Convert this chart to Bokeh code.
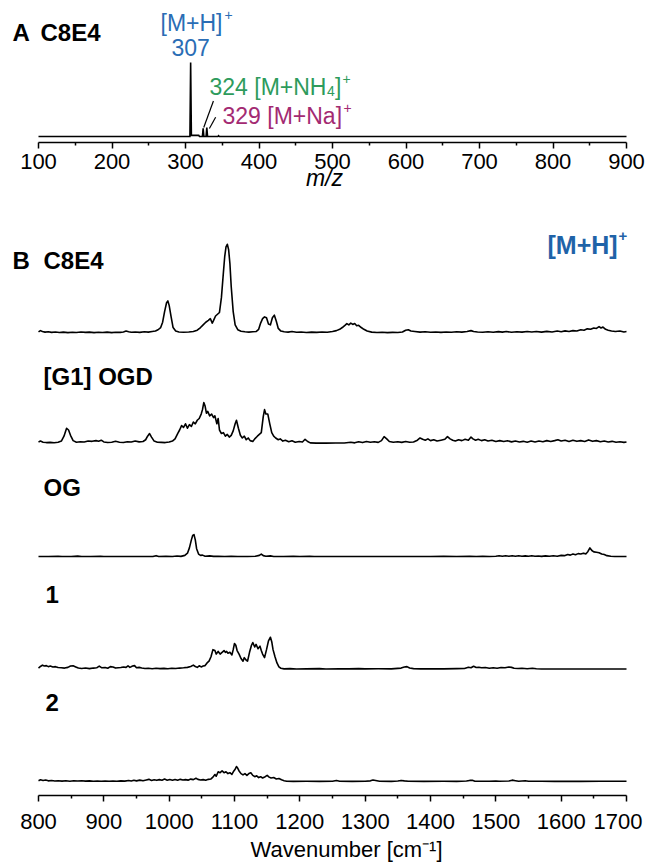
from bokeh.plotting import figure
from bokeh.layouts import column
from bokeh.models import Range1d, FixedTicker, Label, Title
from bokeh.embed import file_html
from bokeh.resources import INLINE

# ---------------- Panel A: mass spectrum of C8E4 ----------------
ms_mz = [100, 306, 307, 308, 309, 318, 319, 323, 324, 325, 328, 329, 330, 344, 345, 346, 900]
ms_int = [0, 0, 100, 1.5, 1.5, 1.5, 0, 0, 11, 0, 0, 12, 0, 0, 1, 0, 0]
ms_ticks = [100, 200, 300, 400, 500, 600, 700, 800, 900]
ms_minor = [150, 250, 350, 450, 550, 650, 750, 850]
ms_peaks = [307, 324, 329]
ms_peak_int = [100, 11, 12]

# ---------------- Panel B: IR spectra ----------------
wn_ticks = [800, 900, 1000, 1100, 1200, 1300, 1400, 1500, 1600, 1700]
wn_minor = [850, 950, 1050, 1150, 1250, 1350, 1450, 1550, 1650]
names = ["C8E4", "[G1] OGD", "OG", "1", "2"]

c8e4 = [(800,1.0),(803,2.5),(806,1.5),(810,0.8),(815,1.2),(820,0.5),(826,0.9),(832,0.4),(838,0.8),(845,0.3),
        (852,0.7),(858,0.4),(865,0.9),(872,0.5),(878,0.8),(885,0.3),(892,0.6),(898,0.4),(905,0.8),(912,0.3),
        (918,0.7),(925,0.5),(930,1.0),(934,2.0),(938,1.2),(942,0.6),(948,0.9),(955,0.5),(962,1.2),(968,0.8),
        (974,1.5),(979,2.0),(983,3.5),(987,6.0),(990,12),(993,24),(996,34),(998,36),(1000,31),(1003,18),
        (1006,6),(1010,2.0),(1015,1.0),(1022,0.6),(1030,0.9),(1037,1.5),(1043,3),(1048,6),(1052,9),(1056,12),
        (1060,14),(1063,16),(1066,11),(1068,14),(1071,19),(1074,21),(1077,23),(1080,40),(1083,68),(1085,86),
        (1087,97),(1089,100),(1091,94),(1093,78),(1095,52),(1098,24),(1101,9),(1105,3.5),(1110,1.8),(1116,1.2),
        (1122,0.8),(1128,1.2),(1133,1.5),(1137,4),(1140,11),(1143,16),(1146,18),(1149,17),(1152,10),(1155,9),
        (1158,17),(1161,20),(1164,13),(1167,5),(1171,2),(1176,1.2),(1182,0.8),(1188,1.5),(1195,0.6),(1202,1.0),
        (1210,0.4),(1218,0.8),(1226,0.5),(1234,1.0),(1242,0.7),(1250,1.5),(1256,2.5),(1261,4),(1265,6),(1269,8.5),
        (1272,10.5),(1275,9),(1278,11),(1281,9.5),(1284,10.5),(1287,8),(1290,8.5),(1294,6),(1298,4),(1303,2),
        (1310,0.8),(1318,0.4),(1326,0.6),(1334,0.3),(1342,0.5),(1350,0.4),(1357,1.0),(1362,3.0),(1366,3.5),(1370,2.0),
        (1376,1.5),(1384,0.8),(1392,1.2),(1400,0.6),(1408,1.0),(1416,0.5),(1424,0.9),(1432,0.6),(1440,1.2),(1448,0.8),
        (1456,1.5),(1462,2.5),(1466,1.5),(1472,1.0),(1480,0.6),(1488,1.2),(1496,0.7),(1504,1.4),(1510,0.8),(1516,1.5),
        (1524,0.6),(1532,1.3),(1540,0.8),(1548,1.6),(1555,0.9),(1562,1.5),(1570,0.8),(1578,1.7),(1586,1.0),(1594,2.0),
        (1600,1.2),(1606,2.2),(1612,1.6),(1618,2.5),(1624,2.0),(1630,3.5),(1635,3.0),(1640,4.5),(1645,4.0),(1650,5.5),
        (1654,5.0),(1658,7.0),(1661,5.5),(1664,6.5),(1668,4.0),(1672,3.0),(1677,2.0),(1683,1.5),(1690,2.0),(1696,1.0),
        (1700,1.5)]

g1_ogd = [(800,1.5),(803,2.5),(807,1.2),(812,0.8),(818,1.0),(824,0.6),(830,1.2),(835,2.5),(839,8),(843,17),
          (846,15),(849,9),(853,3),(858,1.2),(864,1.8),(870,1.4),(876,2.5),(882,2.2),(888,3.0),(892,2.4),
          (896,3.5),(900,1.5),(906,0.8),(912,1.2),(918,2.2),(924,1.2),(930,0.9),(936,1.8),(942,1.4),(948,2.6),
          (954,1.6),(960,2.0),(964,4),(967,8),(970,11),(973,7),(977,2.5),(982,1.2),(988,1.0),(994,0.8),
          (1000,1.5),(1005,2.5),(1009,5),(1013,11),(1016,15),(1019,20),(1022,18),(1025,22),(1028,17),(1031,21),
          (1034,19),(1037,24),(1040,22),(1043,26),(1046,28),(1049,33),(1051,38),(1053,46),(1055,42),(1057,34),
          (1059,36),(1062,31),(1065,33),(1068,29),(1070,31),(1073,22),(1075,28),(1077,15),(1080,11),(1083,12),
          (1086,8),(1089,10),(1092,7),(1095,9),(1098,14),(1101,22),(1103,26),(1106,17),(1109,9),(1112,6),
          (1115,8),(1118,4),(1121,6),(1124,3),(1128,2),(1131,5),(1135,8),(1138,10),(1141,12),(1144,30),
          (1146,38),(1148,33),(1151,33),(1154,22),(1157,12),(1160,8),(1163,6),(1167,4),(1170,5),(1174,2.5),
          (1178,3.5),(1183,1.8),(1188,2.8),(1193,1.2),(1199,2),(1204,1.5),(1208,4.5),(1212,2),(1216,0.5),(1225,0.2),
          (1240,0.2),(1255,0.3),(1268,0.3),(1278,1.2),(1284,0.5),(1290,1.8),(1296,0.8),(1302,2),(1308,1.2),(1314,1.8),
          (1320,1),(1325,3),(1329,7.5),(1333,5),(1337,2),(1343,1.2),(1350,1.8),(1356,1),(1362,2),(1368,1.2),
          (1374,1.5),(1380,3.5),(1384,6),(1388,4.5),(1392,3.5),(1396,5),(1400,3),(1405,4),(1410,2.5),(1416,3.5),
          (1422,4.5),(1426,7.5),(1430,5),(1434,3.5),(1438,2.5),(1443,4),(1448,3),(1453,4.5),(1458,3.5),(1462,7),
          (1465,5),(1469,3.5),(1473,4.5),(1478,3),(1483,4),(1488,2.5),(1494,3.5),(1500,2),(1506,3),(1512,2),
          (1518,2.8),(1524,1.6),(1530,2.5),(1536,1.5),(1542,2.2),(1548,1.2),(1554,2.5),(1560,1.5),(1566,2.5),(1572,1.8),
          (1578,3),(1584,2),(1590,3),(1595,4),(1600,2.5),(1606,3.5),(1612,2),(1618,3.5),(1624,2.2),(1630,3),
          (1636,2),(1642,3.8),(1648,2.2),(1654,3),(1660,1.8),(1666,2.5),(1672,1.5),(1678,2.2),(1684,1.2),(1690,1.8),
          (1696,1),(1700,1.5)]

og = [(800,0.2),(815,0.3),(830,0.6),(836,0.2),(850,0.3),(860,0.7),(866,0.3),(880,0.2),(895,0.5),(900,0.2),
      (920,0.3),(940,0.2),(960,0.3),(975,0.2),(980,1.2),(984,0.3),(995,0.4),(1005,0.3),(1012,0.8),(1018,0.4),
      (1024,1.5),(1028,4),(1031,10),(1034,19),(1036,24),(1038,25),(1040,19),(1042,9),(1045,3),(1048,1.5),
      (1051,1.8),(1055,0.5),(1062,0.9),(1068,0.4),(1075,0.5),(1085,0.3),(1095,0.5),(1105,0.2),(1120,0.3),(1132,0.5),
      (1138,1.5),(1141,3),(1144,1.2),(1148,0.5),(1155,0.9),(1160,0.3),(1175,0.2),(1190,0.4),(1200,0.2),(1215,0.6),
      (1222,0.2),(1240,0.2),(1260,0.3),(1280,0.2),(1300,0.2),(1320,0.2),(1340,0.3),(1360,0.2),(1380,0.3),(1400,0.2),
      (1420,0.4),(1440,0.2),(1460,0.5),(1470,0.3),(1480,0.4),(1490,0.2),(1500,0.6),(1505,1.0),(1510,0.5),(1515,1.0),
      (1520,0.6),(1525,1.1),(1530,0.5),(1535,1.0),(1540,0.6),(1545,0.9),(1550,0.5),(1555,1.0),(1560,0.6),(1565,0.8),
      (1570,0.4),(1576,0.9),(1582,0.5),(1588,1.0),(1594,0.6),(1600,1.5),(1605,1.2),(1610,2.5),(1614,1.8),(1618,3),
      (1622,2.2),(1626,3.5),(1630,3),(1634,4),(1638,3.2),(1641,6),(1644,10),(1647,7),(1650,5.5),(1654,5),
      (1658,4.5),(1662,3),(1666,2.5),(1670,1.2),(1676,0.6),(1682,0.3),(1690,0.2),(1700,0.2)]

cmpd1 = [(800,1.2),(803,3),(806,4.5),(809,3.5),(812,4),(815,2.8),(818,3.5),(822,2.5),(826,2.8),(830,1.8),
         (835,1.5),(840,1.2),(845,2),(849,3.5),(853,3.8),(857,2.5),(861,1.2),(866,0.8),(872,1.2),(878,0.6),
         (884,1.2),(889,1.5),(893,3.5),(897,1.5),(902,1.8),(906,1),(910,2.8),(914,2.5),(918,1.2),(922,1.5),
         (926,1.8),(930,2.5),(934,2),(937,3.8),(940,2),(944,3.5),(947,4),(950,1.5),(954,2),(958,1.2),
         (963,0.8),(968,1),(974,0.5),(980,1),(986,0.6),(992,0.9),(998,0.5),(1004,1),(1010,0.8),(1016,1.2),
         (1022,1.5),(1028,2),(1033,3),(1037,4.5),(1040,3),(1043,2),(1046,3.8),(1049,2.5),(1052,3.5),(1055,4),
         (1058,7),(1061,9),(1064,14),(1067,22),(1070,21),(1072,17),(1075,20),(1078,17),(1081,19),(1084,21),
         (1086,19),(1088,20),(1090,18),(1093,19),(1096,16),(1098,22),(1100,29),(1102,27),(1104,21),(1107,17),
         (1110,12),(1113,9),(1115,13),(1118,10),(1120,9),(1123,19),(1126,27),(1128,30),(1131,25),(1133,28),
         (1136,23),(1139,26),(1141,21),(1143,17),(1146,13),(1149,22),(1152,32),(1155,36),(1157,31),(1159,22),
         (1162,14),(1165,7),(1168,2.5),(1171,1),(1176,0.3),(1185,0.6),(1195,0.2),(1210,0.3),(1230,0.6),(1240,0.2),
         (1260,0.5),(1275,0.3),(1290,0.6),(1300,0.3),(1320,0.4),(1340,0.3),(1355,1.2),(1360,2.5),(1364,2.8),(1368,1.2),
         (1374,0.6),(1385,0.3),(1400,0.5),(1420,0.3),(1440,0.6),(1452,0.8),(1458,2.2),(1462,1.5),(1466,3.2),(1470,1.8),
         (1474,2.2),(1478,1.5),(1484,1.8),(1490,1),(1496,1.5),(1502,1),(1508,1.8),(1514,1.5),(1520,2.5),(1524,2),
         (1528,1),(1534,0.8),(1540,1),(1548,0.5),(1556,1),(1562,0.4),(1570,0.2),(1600,0.1),(1650,0.1),(1700,0.1)]

cmpd2 = [(800,1),(803,2),(807,1.2),(811,1.8),(815,0.8),(820,1.2),(825,0.6),(830,1),(836,0.5),(842,0.9),
         (848,0.4),(854,0.9),(860,0.6),(866,1),(872,0.5),(878,0.8),(884,0.4),(890,0.7),(896,0.4),(902,0.6),
         (908,0.3),(914,0.6),(920,0.4),(926,0.8),(932,0.5),(938,1.2),(942,0.6),(946,1.5),(950,0.8),(955,1.6),
         (960,1),(965,1.8),(969,2.5),(973,1.2),(977,2),(981,1.4),(985,2.2),(989,1.5),(993,2.8),(997,1.6),
         (1001,2.4),(1005,1.6),(1009,2.4),(1013,1.5),(1017,2.5),(1021,1.8),(1025,2.2),(1029,1.6),(1033,2.8),(1037,2.2),
         (1041,3.8),(1044,2.5),(1048,1.8),(1052,2.2),(1056,1.5),(1060,2.5),(1064,3),(1067,5),(1070,8),(1072,6),
         (1075,11),(1078,10),(1081,12),(1084,10),(1087,11),(1090,9),(1093,10),(1096,8),(1099,12),(1101,14),
         (1103,17),(1105,15),(1107,12),(1110,9),(1113,7.5),(1116,9),(1119,7),(1122,9),(1125,10),(1128,7),
         (1131,5.5),(1134,6.5),(1137,4.5),(1140,5.5),(1143,4),(1147,5.5),(1150,7),(1153,5),(1156,4),(1160,4.5),
         (1164,3),(1168,3.5),(1172,2),(1176,1),(1180,0.3),(1190,0.2),(1210,0.3),(1230,0.2),(1250,0.4),(1256,1.2),
         (1261,0.3),(1280,0.2),(1300,0.4),(1308,0.8),(1312,1.8),(1316,1.2),(1322,0.3),(1340,0.2),(1350,0.6),(1355,1.3),
         (1360,0.8),(1366,0.4),(1390,0.2),(1420,0.3),(1440,0.2),(1455,0.6),(1460,1.3),(1464,1.5),(1468,0.4),(1490,0.3),
         (1500,0.6),(1505,0.3),(1520,0.7),(1525,1.6),(1530,1),(1535,0.4),(1545,0.9),(1550,0.3),(1570,0.4),(1590,0.2),
         (1610,0.4),(1630,0.2),(1660,0.3),(1700,0.3)]

spectra = [c8e4, g1_ogd, og, cmpd1, cmpd2]

# ---------------- layout constants (page pixels) ----------------
FONT = "Liberation Sans"
BLUE = "#2a6db5"
BOLD_BLUE = "#1f63a8"
GREEN = "#2e9b5c"
MAGENTA = "#a32a72"
W = 648
X0, FRAME_W = 38, 588          # page x of axis start and axis length
A_H = 203
A_Y0, A_SC, A_AXIS = 136, 0.74, 142   # baseline, px per unit, axis line
B_TOP, B_H = A_H, 660
B_Y0, B_SC = 798, 0.89          # axis line page y, px per unit
offsets = [(B_Y0 - py) / B_SC for py in (333, 444, 558, 671, 784)]


def ax_A(px):
    return 100 + (px - X0) * 800 / FRAME_W


def ay_A(py):
    return (A_Y0 - py) / A_SC


def ax_B(px):
    return 800 + (px - X0) * 900 / FRAME_W


def ay_B(py):
    return (B_Y0 - py) / B_SC


def lab(p, x, y, text, size, color="black", style="normal", align="left"):
    p.add_layout(Label(x=x, y=y, text=text, text_font=FONT, text_font_size=f"{size}px",
                       text_color=color, text_font_style=style, text_align=align,
                       text_baseline="alphabetic"))


def style_axis(p, ticks, minor, standoff):
    ax = p.xaxis[0]
    ax.ticker = FixedTicker(ticks=ticks, minor_ticks=minor)
    ax.bounds = (ticks[0], ticks[-1])
    ax.axis_line_width = 1.5
    ax.axis_line_color = "black"
    ax.major_tick_in = 0
    ax.major_tick_out = 6
    ax.minor_tick_in = 0
    ax.minor_tick_out = 3
    ax.major_tick_line_width = 1.5
    ax.minor_tick_line_width = 1.5
    ax.major_tick_line_color = "black"
    ax.minor_tick_line_color = "black"
    ax.major_label_text_font = FONT
    ax.major_label_text_font_size = "22px"
    ax.major_label_text_color = "black"
    ax.major_label_standoff = standoff
    return ax


# ---------------- figure A ----------------
pA = figure(width=W, height=A_H, x_range=Range1d(ax_A(0), ax_A(W)),
            y_range=Range1d(ay_A(A_AXIS), ay_A(0)),
            output_backend="svg", toolbar_location=None, y_axis_location=None,
            min_border_left=0, min_border_right=0,
            min_border_top=0, min_border_bottom=A_H - A_AXIS)
pA.grid.visible = False
pA.outline_line_color = None
axA = style_axis(pA, ms_ticks, ms_minor, 5)
axA.axis_label = "m/z"
axA.axis_label_text_font = FONT
axA.axis_label_text_font_size = "23px"
axA.axis_label_text_font_style = "italic"
axA.axis_label_text_color = "black"
axA.axis_label_standoff = -7

pA.line(ms_mz, ms_int, line_color="black", line_width=1.6, line_join="miter")

# leader lines from labels to the small peaks
lead_x0 = [ms_peaks[1] + 0.8, ms_peaks[2] + 3.5]
lead_y0 = [ms_peak_int[1] + 1.2, ms_peak_int[2] - 1.2]
lead_x1 = [ms_peaks[1] + 14, ms_peaks[2] + 12]
lead_y1 = [ms_peak_int[1] + 37, ms_peak_int[2] + 14]
pA.segment(lead_x0, lead_y0, lead_x1, lead_y1, line_color="black", line_width=1.2)

lab(pA, ax_A(12), ay_A(32), "A", 24, style="bold")
lab(pA, ax_A(40), ay_A(32), "C8E4", 24, style="bold")
lab(pA, ax_A(160), ay_A(22), "[M+H]", 23, color=BLUE)
lab(pA, ax_A(224), ay_A(14), "+", 14, color=BLUE)
lab(pA, ms_peaks[0], ay_A(47), str(ms_peaks[0]), 23, color=BLUE, align="center")
lab(pA, ax_A(209), ay_A(86), f"{ms_peaks[1]} [M+NH", 23, color=GREEN)
lab(pA, ax_A(326.5), ay_A(90), "4", 14, color=GREEN)
lab(pA, ax_A(334.5), ay_A(86), "]", 23, color=GREEN)
lab(pA, ax_A(342), ay_A(78), "+", 14, color=GREEN)
lab(pA, ax_A(222), ay_A(115), f"{ms_peaks[2]} [M+Na]", 23, color=MAGENTA)
lab(pA, ax_A(343), ay_A(107), "+", 14, color=MAGENTA)

# ---------------- figure B ----------------
pB = figure(width=W, height=B_H, x_range=Range1d(ax_B(0), ax_B(W)),
            y_range=Range1d(0, (B_Y0 - B_TOP) / B_SC),
            output_backend="svg", toolbar_location=None, y_axis_location=None,
            min_border_left=0, min_border_right=0,
            min_border_top=0, min_border_bottom=B_H - (B_Y0 - B_TOP))
pB.grid.visible = False
pB.outline_line_color = None
axB = style_axis(pB, wn_ticks, wn_minor, 7)
axB.major_label_overrides = {1700: "1700\u00a0"}

xtitle = Title(text="Wavenumber [cm\u207b\u00b9]", align="left", offset=250,
               vertical_align="top",
               text_font=FONT, text_font_size="22px", text_font_style="normal",
               text_color="black", standoff=0)
pB.add_layout(xtitle, "below")

for spec, off in zip(spectra, offsets):
    xs = [pt[0] for pt in spec]
    ys = [pt[1] + off for pt in spec]
    pB.line(xs, ys, line_color="black", line_width=1.6, line_join="round")

label_pos = [(43, 260), (43, 377), (43, 488), (45, 596), (45, 705)]
lab(pB, ax_B(12), ay_B(260), "B", 24, style="bold")
for name, (px, py) in zip(names, label_pos):
    lab(pB, ax_B(px), ay_B(py), name, 24, style="bold")
lab(pB, ax_B(547), ay_B(245), "[M+H]", 25, color=BOLD_BLUE, style="bold")
lab(pB, ax_B(618), ay_B(236), "+", 15, color=BOLD_BLUE, style="bold")

layout = column(pA, pB, spacing=0)
open("out.html", "w").write(file_html(layout, INLINE))
